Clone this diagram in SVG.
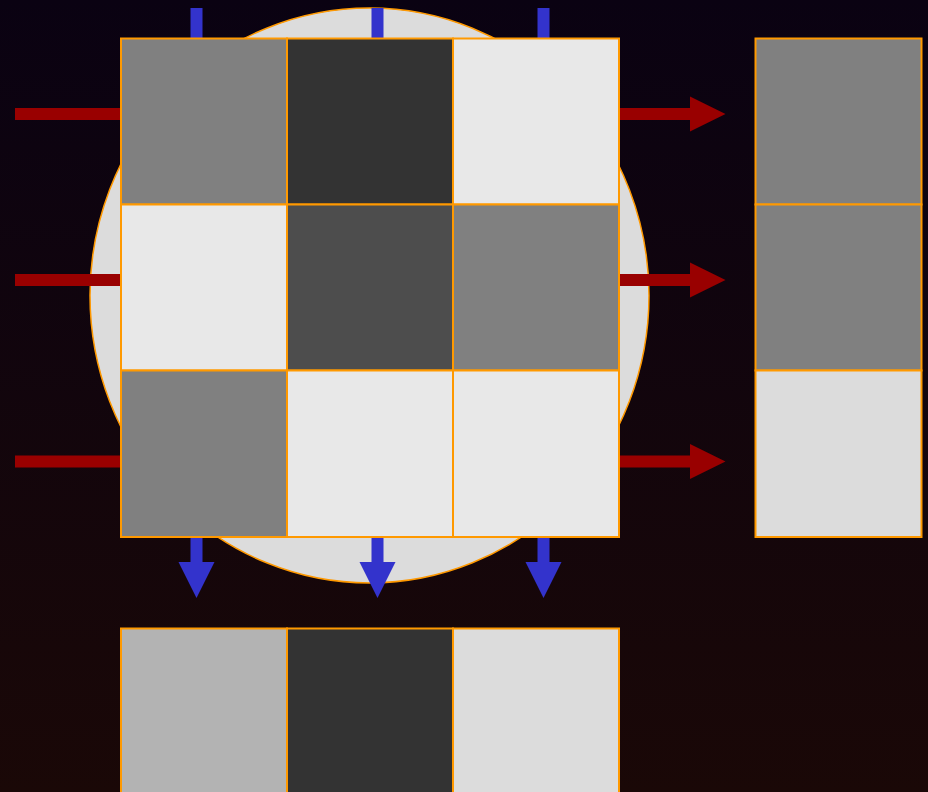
<svg xmlns="http://www.w3.org/2000/svg" width="928" height="792" viewBox="0 0 928 792">
<defs>
<linearGradient id="bg" x1="0" y1="0" x2="0" y2="1">
<stop offset="0" stop-color="#0a0212"/>
<stop offset="1" stop-color="#1a0807"/>
</linearGradient>
</defs>
<style>
.c{stroke:#ff9900;stroke-width:2}
.red{fill:#990000}
.blue{fill:#3333cc}
</style>
<rect width="928" height="792" fill="url(#bg)"/>
<g id="disk"><ellipse cx="369.5" cy="295.5" rx="279.5" ry="287.5" fill="#dcdcdc" stroke="#ff9900" stroke-width="1.5"/></g>
<g id="connectors">
<rect class="blue" x="190.5" y="8" width="12" height="31"/>
<rect class="blue" x="371.5" y="8" width="12" height="31"/>
<rect class="blue" x="537.5" y="8" width="12" height="31"/>
<path class="blue" d="M190.5 537H202.5V562H214.5L196.5 598L178.5 562H190.5Z"/>
<path class="blue" d="M371.5 537H383.5V562H395.5L377.5 598L359.5 562H371.5Z"/>
<path class="blue" d="M537.5 537H549.5V562H561.5L543.5 598L525.5 562H537.5Z"/>
<rect class="red" x="15" y="108" width="106" height="12"/>
<rect class="red" x="15" y="274" width="106" height="12"/>
<rect class="red" x="15" y="455.5" width="106" height="12"/>
<path class="red" d="M620 108H690V96.5L725.5 114L690 131.5V120H620Z"/>
<path class="red" d="M620 274H690V262.5L725.5 280L690 297.5V286H620Z"/>
<path class="red" d="M620 455.5H690V444L725.5 461.5L690 479V467.5H620Z"/>
</g>
<g id="grid">
<rect class="c" x="121" y="38.5" width="166" height="166" fill="#808080"/>
<rect class="c" x="287" y="38.5" width="166" height="166" fill="#333333"/>
<rect class="c" x="453" y="38.5" width="166" height="166" fill="#e8e8e8"/>
<rect class="c" x="121" y="204.5" width="166" height="166" fill="#e8e8e8"/>
<rect class="c" x="287" y="204.5" width="166" height="166" fill="#4d4d4d"/>
<rect class="c" x="453" y="204.5" width="166" height="166" fill="#808080"/>
<rect class="c" x="121" y="370.5" width="166" height="166.5" fill="#808080"/>
<rect class="c" x="287" y="370.5" width="166" height="166.5" fill="#e8e8e8"/>
<rect class="c" x="453" y="370.5" width="166" height="166.5" fill="#e8e8e8"/>
</g>
<g id="rowsums">
<rect class="c" x="755.5" y="38.5" width="166" height="166" fill="#808080"/>
<rect class="c" x="755.5" y="204.5" width="166" height="166" fill="#808080"/>
<rect class="c" x="755.5" y="370.5" width="166" height="166.5" fill="#dcdcdc"/>
</g>
<g id="colsums">
<rect class="c" x="121" y="628.5" width="166" height="166" fill="#b3b3b3"/>
<rect class="c" x="287" y="628.5" width="166" height="166" fill="#333333"/>
<rect class="c" x="453" y="628.5" width="166" height="166" fill="#dcdcdc"/>
</g>
</svg>
